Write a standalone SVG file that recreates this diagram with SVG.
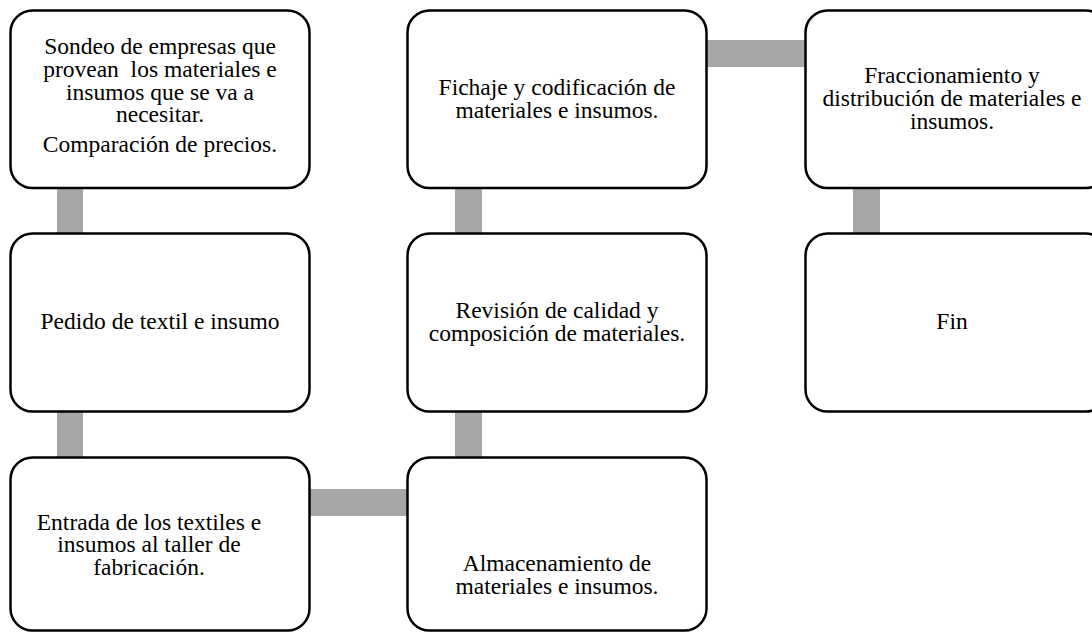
<svg xmlns="http://www.w3.org/2000/svg" width="1092" height="633" viewBox="0 0 1092 633">
<style>
.box{fill:#fff;stroke:#000;stroke-width:2.5}
.con{fill:#a6a6a6}
text{font-family:"Liberation Serif","Times New Roman",serif;font-size:23.5px;fill:#000;text-anchor:middle}
</style>
<rect width="1092" height="633" fill="#fff"/>
<g id="connectors">
<rect class="con" x="57" y="187" width="26" height="48"/>
<rect class="con" x="57" y="411" width="26" height="48"/>
<rect class="con" x="308" y="489" width="102" height="27"/>
<rect class="con" x="455" y="411" width="27" height="48"/>
<rect class="con" x="455" y="187" width="27" height="48"/>
<rect class="con" x="705" y="40" width="102" height="27"/>
<rect class="con" x="853" y="187" width="27" height="48"/>
</g>
<g id="n1"><rect class="box" x="10.5" y="10.5" width="299" height="177.5" rx="22"/>
<text x="160" y="54">Sondeo de empresas que</text>
<text x="160" y="77" xml:space="preserve" style="white-space:pre">provean  los materiales e</text>
<text x="160" y="100">insumos que se va a</text>
<text x="160" y="122">necesitar.</text>
<text x="160" y="152">Comparación de precios.</text></g>
<g id="n2"><rect class="box" x="10.5" y="233.5" width="299" height="178" rx="22"/>
<text x="160" y="329">Pedido de textil e insumo</text></g>
<g id="n3"><rect class="box" x="10.5" y="457.5" width="299" height="173" rx="22"/>
<text x="149" y="530">Entrada de los textiles e</text>
<text x="149" y="552">insumos al taller de</text>
<text x="149" y="575">fabricación.</text></g>
<g id="n4"><rect class="box" x="407.5" y="457.5" width="299" height="173" rx="22"/>
<text x="557" y="571">Almacenamiento de</text>
<text x="557" y="594">materiales e insumos.</text></g>
<g id="n5"><rect class="box" x="407.5" y="233.5" width="299" height="178" rx="22"/>
<text x="557" y="318">Revisión de calidad y</text>
<text x="557" y="341">composición de materiales.</text></g>
<g id="n6"><rect class="box" x="407.5" y="10.5" width="299" height="177.5" rx="22"/>
<text x="557" y="95">Fichaje y codificación de</text>
<text x="557" y="118">materiales e insumos.</text></g>
<g id="n7"><rect class="box" x="805.5" y="10.5" width="302" height="177.5" rx="22"/>
<text x="952" y="83">Fraccionamiento y</text>
<text x="952" y="106">distribución de materiales e</text>
<text x="952" y="129">insumos.</text></g>
<g id="n8"><rect class="box" x="805.5" y="233.5" width="302" height="178" rx="22"/>
<text x="952" y="329">Fin</text></g>
</svg>
